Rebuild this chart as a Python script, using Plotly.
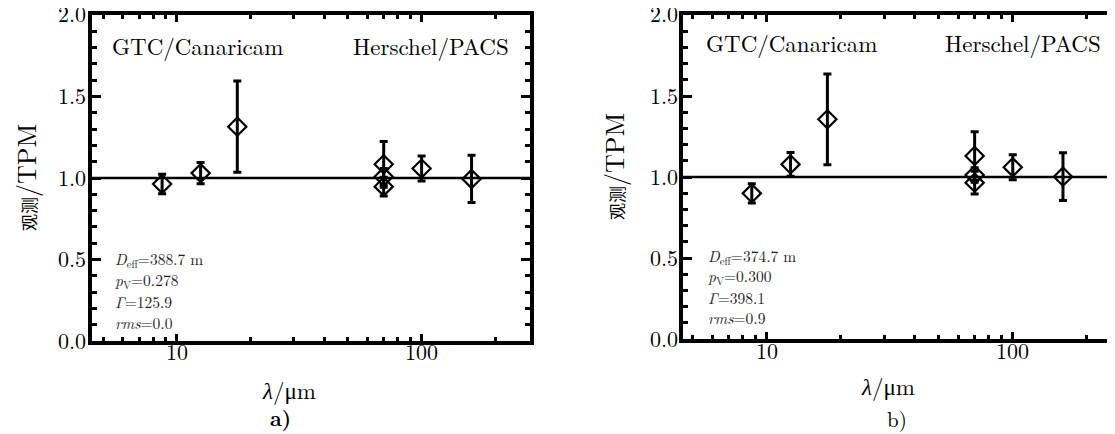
import math
import plotly.graph_objects as go

# ---------------- data ----------------
wavelength_um = [8.7, 12.5, 17.65, 70, 70, 70, 100, 160]

ratio_a = [0.963, 1.030, 1.315, 1.084, 1.008, 0.947, 1.058, 0.994]
err_a = [0.060, 0.065, 0.280, 0.140, 0.050, 0.057, 0.077, 0.145]

ratio_b = [0.899, 1.078, 1.356, 1.130, 1.012, 0.965, 1.060, 1.002]
err_b = [0.060, 0.073, 0.280, 0.150, 0.045, 0.070, 0.077, 0.147]

params_a = ["<i>D</i><sub>eff</sub>=388.7 m", "<i>p</i><sub>V</sub>=0.278",
            "<i>Γ</i>=125.9", "<i>rms</i>=0.0"]
params_b = ["<i>D</i><sub>eff</sub>=374.7 m", "<i>p</i><sub>V</sub>=0.300",
            "<i>Γ</i>=398.1", "<i>rms</i>=0.9"]

x_major_ticks = [10, 100]
x_tick_labels = ["10", "100"]
x_minor_ticks = [5, 6, 7, 8, 9, 20, 30, 40, 50, 60, 70, 80, 90, 200]
y_major_ticks = [0.0, 0.5, 1.0, 1.5, 2.0]
y_tick_labels = ["0.0", "0.5", "1.0", "1.5", "2.0"]
y_minor_ticks = [0.1, 0.2, 0.3, 0.4, 0.6, 0.7, 0.8, 0.9,
                 1.1, 1.2, 1.3, 1.4, 1.6, 1.7, 1.8, 1.9]
reference_ratio = 1.0

# ---------------- layout helpers ----------------
W, H = 1115, 434
OFF = 8  # page body margin of the browser
def fx(p):
    return (p - OFF) / W
def fy(p):
    return 1 - (p - OFF) / H

LM = "Latin Modern Roman, Liberation Serif, Noto Sans CJK SC"

fig = go.Figure()

def add_panel(ratios, errs, xa, ya):
    fig.add_trace(go.Scatter(
        x=wavelength_um, y=ratios, mode="markers",
        marker=dict(symbol="diamond-open", size=14, color="black",
                    line=dict(width=2.2, color="black")),
        error_y=dict(type="data", array=errs, visible=True,
                     color="black", thickness=3, width=4),
        xaxis=xa, yaxis=ya, showlegend=False, hoverinfo="x+y"))

add_panel(ratio_a, err_a, "x", "y")
add_panel(ratio_b, err_b, "x2", "y2")

def xaxis_cfg(domain, rng, anchor):
    return dict(type="log", domain=domain, range=rng, anchor=anchor,
                tickmode="array", tickvals=x_major_ticks, showticklabels=False,
                ticks="inside", ticklen=7, tickwidth=3, tickcolor="black",
                minor=dict(tickmode="array", tickvals=x_minor_ticks,
                           ticks="inside", ticklen=4, tickwidth=2.5,
                           tickcolor="black", showgrid=False),
                showline=True, linewidth=4, linecolor="black",
                mirror="allticks", showgrid=False, zeroline=False)

def yaxis_cfg(domain, anchor):
    return dict(domain=domain, range=[0, 2], anchor=anchor,
                tickmode="array", tickvals=y_major_ticks, showticklabels=False,
                ticks="inside", ticklen=9, tickwidth=3, tickcolor="black",
                minor=dict(tickmode="array", tickvals=y_minor_ticks,
                           ticks="inside", ticklen=5, tickwidth=2.5,
                           tickcolor="black", showgrid=False),
                showline=True, linewidth=4, linecolor="black",
                mirror="allticks", showgrid=False, zeroline=False)

fig.update_layout(
    width=W, height=H, autosize=False,
    margin=dict(l=0, r=0, t=0, b=0, pad=0, autoexpand=False),
    paper_bgcolor="white", plot_bgcolor="white",
    xaxis=xaxis_cfg([fx(92), fx(530)], [0.653, 2.443], "y"),
    yaxis=yaxis_cfg([fy(341), fy(15)], "x"),
    xaxis2=xaxis_cfg([fx(683), 1.0], [0.660, 2.448], "y2"),
    yaxis2=yaxis_cfg([fy(339), fy(15)], "x2"),
)

for xr, yr in (("x", "y"), ("x2", "y2")):
    fig.add_shape(type="line", xref=f"{xr} domain", yref=yr,
                  x0=0, x1=1, y0=reference_ratio, y1=reference_ratio,
                  line=dict(color="black", width=2.5))

ann = []
def text(x, y, s, size, xanchor="left", angle=0, color="black",
         xref="paper", yref="paper", yshift=0):
    ann.append(dict(x=x, y=y, xref=xref, yref=yref, text=s,
                    showarrow=False, xanchor=xanchor, yanchor="middle",
                    textangle=angle, yshift=yshift,
                    font=dict(family=LM, size=size, color=color)))

# tick labels placed on the axes' own scales
for xr, yr, ylab_x, xlab_y in (("x", "y", 88, 350), ("x2", "y2", 680, 349)):
    for v, s in zip(x_major_ticks, x_tick_labels):
        text(math.log10(v), fy(xlab_y), s, 22, xanchor="center", xref=xr)
    for v, s in zip(y_major_ticks, y_tick_labels):
        text(fx(ylab_x), v, s, 22, xanchor="right", yref=yr, yshift=2)

YT = "<span style='font-size:17px'>观测</span>/TPM"

# panel a
text(fx(110), fy(45), "GTC/Canaricam", 23)
text(fx(511), fy(45), "Herschel/PACS", 23, xanchor="right")
for i, s in enumerate(params_a):
    text(fx(113), fy(259 + 21 * i), s, 15.5, color="#222")
text(fx(289), fy(389), "<i>λ</i>/μm", 23, xanchor="center")
text(fx(280), fy(417), "<b>a)</b>", 21, xanchor="center")
text(fx(25), fy(178), YT, 26, xanchor="center", angle=-90)

# panel b
text(fx(704), fy(42), "GTC/Canaricam", 23)
text(fx(1103), fy(42), "Herschel/PACS", 23, xanchor="right")
for i, s in enumerate(params_b):
    text(fx(706), fy(256 + 20.5 * i), s, 15.5, color="#222")
text(fx(888), fy(385), "<i>λ</i>/μm", 23, xanchor="center")
text(fx(897), fy(418), "b)", 21, xanchor="center")
text(fx(613), fy(167), YT, 26, xanchor="center", angle=-90)

fig.update_layout(annotations=ann)

fig.write_html("out.html")
